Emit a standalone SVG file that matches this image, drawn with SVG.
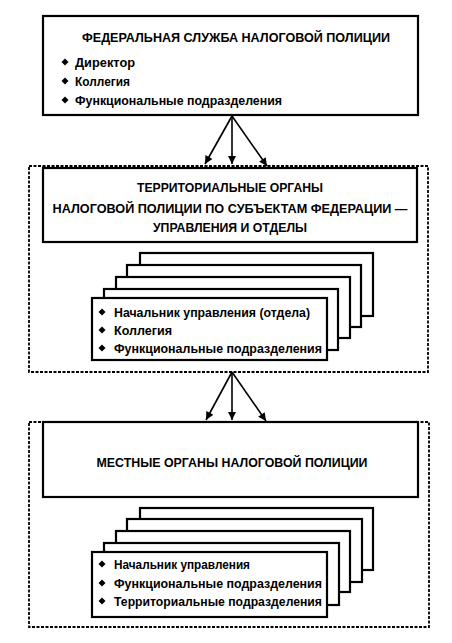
<svg xmlns="http://www.w3.org/2000/svg" width="452" height="643" viewBox="0 0 452 643">
<style>
.box{fill:#fff;stroke:#000;stroke-width:2.2}
.card{fill:#fff;stroke:#000;stroke-width:2.2}
.dash{fill:none;stroke:#000;stroke-width:1.8;stroke-dasharray:3 1.5}
.t{font-family:"Liberation Sans",Arial,sans-serif;font-weight:bold;font-size:13.5px;fill:#000}
.c{text-anchor:middle}
.b{fill:#000}
.con{stroke:#000;stroke-width:1.6;fill:none}
</style>
<defs>
<marker id="ah" viewBox="0 0 10 10" refX="10" refY="5" markerWidth="12" markerHeight="8" markerUnits="userSpaceOnUse" orient="auto">
<path d="M0,0 L10,5 L0,10 Z" fill="#000"/>
</marker>
<path id="dm" d="M0,-3.5 L3.5,0 L0,3.5 L-3.5,0 Z"/>
</defs>
<rect x="0" y="0" width="452" height="643" fill="#fff"/>

<g id="federal">
<rect class="box" x="43" y="16" width="375" height="99"/>
<text class="t c" x="236" y="42" textLength="308" lengthAdjust="spacingAndGlyphs">ФЕДЕРАЛЬНАЯ СЛУЖБА НАЛОГОВОЙ ПОЛИЦИИ</text>
<use href="#dm" class="b" x="65" y="62"/>
<text class="t" x="75" y="66.5" textLength="60" lengthAdjust="spacingAndGlyphs">Директор</text>
<use href="#dm" class="b" x="65" y="81"/>
<text class="t" x="75" y="85.5" textLength="55" lengthAdjust="spacingAndGlyphs">Коллегия</text>
<use href="#dm" class="b" x="65" y="100"/>
<text class="t" x="75" y="104.5" textLength="207" lengthAdjust="spacingAndGlyphs">Функциональные подразделения</text>
</g>

<g id="territorial">
<rect class="dash" x="29" y="166" width="399" height="206"/>
<rect class="box" x="43" y="168" width="374" height="74"/>
<text class="t c" x="230" y="192" textLength="186" lengthAdjust="spacingAndGlyphs">ТЕРРИТОРИАЛЬНЫЕ ОРГАНЫ</text>
<text class="t c" x="230" y="213" textLength="355" lengthAdjust="spacingAndGlyphs">НАЛОГОВОЙ ПОЛИЦИИ ПО СУБЪЕКТАМ ФЕДЕРАЦИИ —</text>
<text class="t c" x="230" y="232" textLength="154" lengthAdjust="spacingAndGlyphs">УПРАВЛЕНИЯ И ОТДЕЛЫ</text>
<rect class="card" x="140" y="253" width="233" height="63"/>
<rect class="card" x="127" y="265" width="234" height="62"/>
<rect class="card" x="116" y="277" width="234" height="61"/>
<rect class="card" x="104" y="289" width="234" height="61"/>
<rect class="card" x="92" y="298" width="235" height="62"/>
<use href="#dm" class="b" x="102" y="312"/>
<text class="t" x="114" y="316.5" textLength="196" lengthAdjust="spacingAndGlyphs">Начальник управления (отдела)</text>
<use href="#dm" class="b" x="102" y="330"/>
<text class="t" x="114" y="334.5" textLength="58" lengthAdjust="spacingAndGlyphs">Коллегия</text>
<use href="#dm" class="b" x="102" y="348"/>
<text class="t" x="114" y="352.5" textLength="208" lengthAdjust="spacingAndGlyphs">Функциональные подразделения</text>
</g>

<g id="local">
<rect class="dash" x="29" y="422" width="400" height="205"/>
<rect class="box" x="43" y="422" width="375" height="75"/>
<text class="t c" x="232" y="467" textLength="271" lengthAdjust="spacingAndGlyphs">МЕСТНЫЕ ОРГАНЫ НАЛОГОВОЙ ПОЛИЦИИ</text>
<rect class="card" x="140" y="508" width="233" height="62"/>
<rect class="card" x="127" y="519" width="235" height="63"/>
<rect class="card" x="116" y="531" width="234" height="61"/>
<rect class="card" x="104" y="543" width="235" height="62"/>
<rect class="card" x="92" y="552" width="235" height="65"/>
<use href="#dm" class="b" x="102" y="564"/>
<text class="t" x="114" y="568.5" textLength="136" lengthAdjust="spacingAndGlyphs">Начальник управления</text>
<use href="#dm" class="b" x="102" y="583"/>
<text class="t" x="114" y="587.5" textLength="208" lengthAdjust="spacingAndGlyphs">Функциональные подразделения</text>
<use href="#dm" class="b" x="102" y="601"/>
<text class="t" x="114" y="605.5" textLength="208" lengthAdjust="spacingAndGlyphs">Территориальные подразделения</text>
</g>

<g id="connectors">
<line class="con" x1="232" y1="116" x2="205" y2="164" marker-end="url(#ah)"/>
<line class="con" x1="232" y1="116" x2="232" y2="164" marker-end="url(#ah)"/>
<line class="con" x1="232" y1="116" x2="267" y2="166" marker-end="url(#ah)"/>
<line class="con" x1="232" y1="372" x2="206" y2="420" marker-end="url(#ah)"/>
<line class="con" x1="232" y1="372" x2="232" y2="420" marker-end="url(#ah)"/>
<line class="con" x1="232" y1="372" x2="266" y2="421" marker-end="url(#ah)"/>
</g>
</svg>
